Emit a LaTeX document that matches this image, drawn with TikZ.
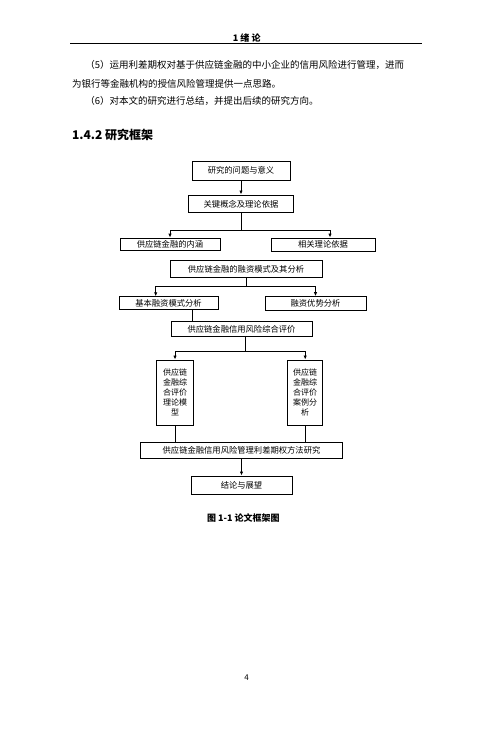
\documentclass[tikz,border=0pt]{standalone}
\usepackage{fontspec}
\setmainfont{Noto Sans CJK SC}
\usetikzlibrary{arrows.meta}
\XeTeXlinebreaklocale "zh"
\XeTeXlinebreakskip = 0pt plus 4pt
\begin{document}
\begin{tikzpicture}
  [x = 1pt, y = -1pt, line width = .9pt,
   box/.style = {draw, inner sep = 0pt, align = center,
                 font = \fontsize{8.3}{10}\selectfont},
   body/.style = {anchor = west, inner sep = 0pt,
                  font = \fontsize{9.5}{11}\selectfont},
   arr/.style = {-{Latex[length = 4pt, width = 3.4pt]}}]
  \useasboundingbox (0,0) rectangle (500,730);
  % page head and text
  \node (head) at (246.7,37.7) {\fontsize{9}{10}\selectfont\bfseries 1\ 绪\ 论};
  \draw[line width = 1.4pt] (70,43.5) -- (421.7,43.5);
  \node[body] (p5) at (85,65)
    {\makebox[335pt][s]{（5）运用利差期权对基于供应链金融的中小企业的信用风险进行管理，进而}};
  \node[body] (p5b) at (71.7,83.5) {为银行等金融机构的授信风险管理提供一点思路。};
  \node[body] (p6) at (85,101) {（6）对本文的研究进行总结，并提出后续的研究方向。};
  \node[body, font = \fontsize{12}{14}\selectfont\bfseries] (sec) at (71.7,135)
    {1.4.2 研究框架};
  % framework
  \node[box, minimum width = 98pt, minimum height = 19pt] (q) at (241,170.5) {研究的问题与意义};
  \node[box, minimum width = 105pt, minimum height = 17.7pt] (basis) at (241,203.8) {关键概念及理论依据};
  \node[box, minimum width = 100pt, minimum height = 12.5pt] (connot) at (170,244.3) {供应链金融的内涵};
  \node[box, minimum width = 104pt, minimum height = 13pt] (theory) at (323,244.5) {相关理论依据};
  \node[box, minimum width = 152pt, minimum height = 17pt] (mode) at (246,269) {供应链金融的融资模式及其分析};
  \node[box, minimum width = 99pt, minimum height = 12.5pt] (basic) at (168.5,303) {基本融资模式分析};
  \node[box, minimum width = 101pt, minimum height = 13.3pt] (adv) at (315.5,303.3) {融资优势分析};
  \node[box, minimum width = 141pt, minimum height = 15pt] (eval) at (241.5,329.2) {供应链金融信用风险综合评价};
  \node[box, minimum width = 36.7pt, minimum height = 65pt, font = \fontsize{8}{10}\selectfont]
    (model) at (175,392.5) {供应链\\金融综\\合评价\\理论模\\型};
  \node[box, minimum width = 35pt, minimum height = 65pt, font = \fontsize{8}{10}\selectfont]
    (case) at (305.2,392.5) {供应链\\金融综\\合评价\\案例分\\析};
  \node[box, minimum width = 202pt, minimum height = 16pt] (method) at (241.5,450.3)
    {供应链金融信用风险管理利差期权方法研究};
  \node[box, minimum width = 101pt, minimum height = 18pt] (concl) at (241.5,485) {结论与展望};
  \node[font = \fontsize{9}{10}\selectfont\bfseries] (cap) at (243.3,517.7) {图 1-1 论文框架图};
  \node[font = \fontsize{8}{10}\selectfont] (page) at (246.7,678) {4};
  % connectors
  \draw[arr] (q) -- (basis);
  \coordinate (j1) at (241,230);
  \draw (basis) -- (j1);
  \draw[arr] (j1) -| (connot.north);
  \draw[arr] (j1) -| ([xshift = 7pt]theory.north);
  \coordinate (j2) at (246,286.7);
  \draw (mode) -- (j2);
  \draw[arr] (j2) -| ([xshift = -12.8pt]basic.north);
  \draw[arr] (j2) -| (adv.north);
  \coordinate (l5) at ([xshift = 24.2pt]basic.south);
  \draw (l5) -- (l5 |- eval.north);
  \coordinate (j3) at (245,351.7);
  \draw (j3 |- eval.south) -- (j3);
  \draw[arr] (j3) -| (model.north);
  \draw[arr] (j3) -| (case.north);
  \foreach \b in {model, case}
    \draw (\b) -- (\b |- method.north);
  \draw[arr] (method) -- (concl);
\end{tikzpicture}
\end{document}
